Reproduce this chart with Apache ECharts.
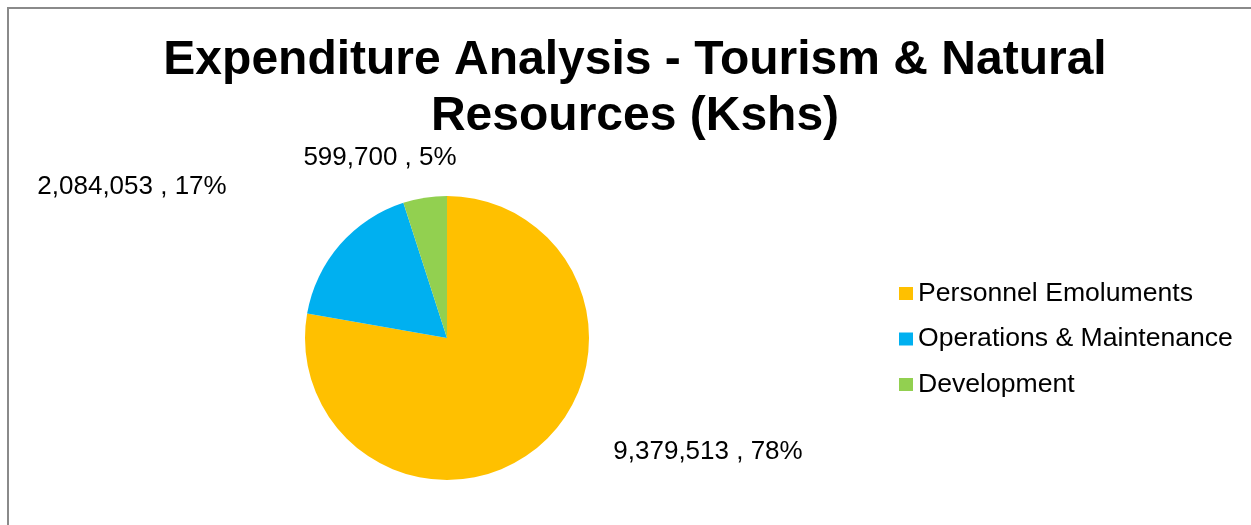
<!DOCTYPE html>
<html>
<head>
<meta charset="utf-8">
<title>Expenditure Analysis - Tourism & Natural Resources (Kshs)</title>
<script src="https://cdn.jsdelivr.net/npm/echarts@6/dist/echarts.min.js"></script>
<style>
  html, body { margin: 0; padding: 0; background: #ffffff; }
  #chart { width: 1251px; height: 525px; }
</style>
</head>
<body>
<div id="chart"></div>
<script>
// Expenditure categories and amounts (Kshs)
const categories = ['Personnel Emoluments', 'Operations & Maintenance', 'Development'];
const amounts = [9379513, 2084053, 599700];
const sliceColors = ['#FFC000', '#00B0F0', '#92D050'];

// Where each data label sits (text centre, in pixels)
const labelSpots = [[708, 452], [132, 187], [380, 158]];

const chart = echarts.init(document.getElementById('chart'), null, { renderer: 'canvas' });

const pieData = categories.map((name, i) => ({
  name: name,
  value: amounts[i],
  itemStyle: { color: sliceColors[i] }
}));

chart.setOption({
  backgroundColor: '#ffffff',
  animation: false,
  title: {
    text: 'Expenditure Analysis - Tourism & Natural\nResources (Kshs)',
    left: 630,
    textAlign: 'center',
    top: 28,
    textStyle: {
      fontFamily: 'Liberation Sans, Arial, sans-serif',
      fontWeight: 'bold',
      fontSize: 48,
      lineHeight: 56,
      color: '#000000'
    }
  },
  legend: {
    orient: 'vertical',
    left: 899,
    top: 280,
    padding: 0,
    icon: 'rect',
    itemWidth: 14,
    itemHeight: 13,
    itemGap: 18.5,
    data: categories,
    textStyle: {
      fontFamily: 'Liberation Sans, Arial, sans-serif',
      fontSize: 26.6,
      color: '#000000'
    }
  },
  graphic: [{
    type: 'polyline',
    silent: true,
    shape: { points: [[8, 530], [8, 8], [1260, 8]] },
    style: { stroke: '#8a8a8a', lineWidth: 2, fill: null }
  }],
  series: [{
    type: 'pie',
    center: [447, 338],
    radius: 142,
    startAngle: 90,
    clockwise: true,
    data: pieData,
    itemStyle: { borderWidth: 0 },
    label: {
      show: true,
      position: 'outside',
      fontFamily: 'Liberation Sans, Arial, sans-serif',
      fontSize: 26,
      color: '#000000',
      formatter: p => p.value.toLocaleString('en-US') + ' , ' + Math.round(p.percent) + '%'
    },
    labelLine: { show: false },
    labelLayout: p => ({
      x: labelSpots[p.dataIndex][0],
      y: labelSpots[p.dataIndex][1],
      align: 'center',
      verticalAlign: 'middle'
    }),
    emphasis: { disabled: true }
  }]
});
</script>
</body>
</html>
